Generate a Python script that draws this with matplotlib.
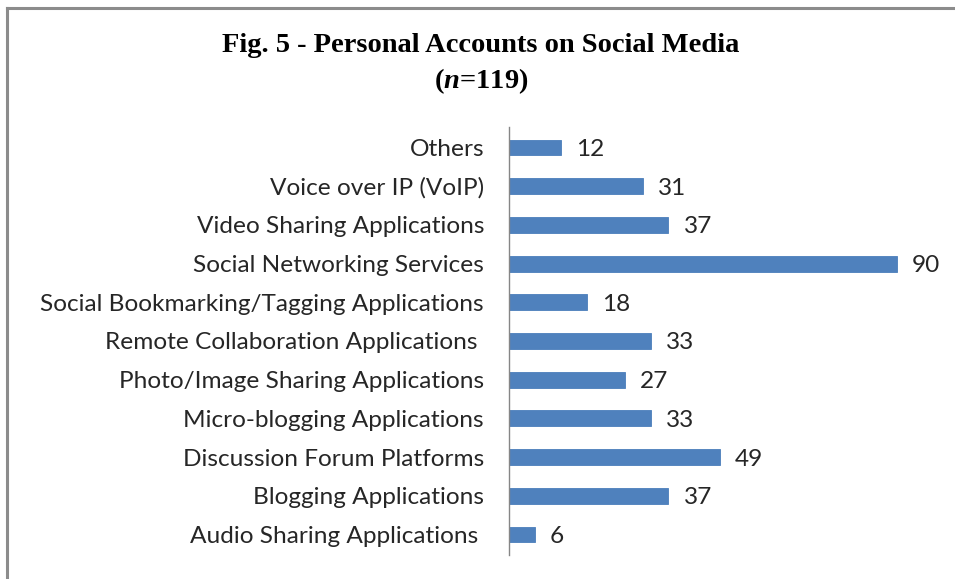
import matplotlib
matplotlib.use("Agg")
import matplotlib.pyplot as plt
from matplotlib.lines import Line2D

plt.rcParams["mathtext.fontset"] = "custom"
plt.rcParams["mathtext.it"] = "Liberation Serif:italic:bold"
plt.rcParams["mathtext.rm"] = "Liberation Serif:bold"

categories = [
    "Audio Sharing Applications ",
    "Blogging Applications",
    "Discussion Forum Platforms",
    "Micro-blogging Applications",
    "Photo/Image Sharing Applications",
    "Remote Collaboration Applications ",
    "Social Bookmarking/Tagging Applications",
    "Social Networking Services",
    "Video Sharing Applications",
    "Voice over IP (VoIP)",
    "Others",
]
values = [6, 37, 49, 33, 27, 33, 18, 90, 37, 31, 12]

W, H = 955, 579
fig = plt.figure(figsize=(W / 100, H / 100), dpi=100)
fig.patch.set_facecolor("white")

ax = fig.add_axes([509 / W, 1 - 555 / H, 431 / W, 428 / H])
ypos = list(range(len(categories)))
ax.barh(ypos, values, height=0.41, color="#4F81BD", edgecolor="#4A7EBB", linewidth=0.6)
ax.set_xlim(0, 100)
ax.set_ylim(-0.53, len(categories) - 1 + 0.53)
ax.set_yticks(ypos)
ax.set_yticklabels(categories, fontsize=17.6, family="Lato", color="#262626")
ax.tick_params(axis="y", length=0, pad=18)
ax.set_xticks([])
for s in ["top", "right", "bottom"]:
    ax.spines[s].set_visible(False)
ax.spines["left"].set_color("#868686")
ax.spines["left"].set_linewidth(1.0)

for y, v in zip(ypos, values):
    ax.annotate(str(v), xy=(v, y), xytext=(15, -2), textcoords="offset pixels",
                va="center", ha="left", fontsize=17.6, family="Lato", color="#262626")

fig.text(481 / W, 1 - 46 / H, "Fig. 5 - Personal Accounts on Social Media",
         ha="center", va="center", fontsize=20.5, family="Liberation Serif", weight="bold")
fig.text(481 / W, 1 - 81 / H, r"($\mathit{n}$=119)", ha="center", va="center",
         fontsize=20.5, family="Liberation Serif", weight="bold")

# frame lines (top and left)
fig.add_artist(Line2D([7 / W, 1], [1 - 8 / H, 1 - 8 / H], transform=fig.transFigure,
                      color="#8c8c8c", linewidth=2.2))
fig.add_artist(Line2D([7 / W, 7 / W], [0, 1 - 8 / H], transform=fig.transFigure,
                      color="#8c8c8c", linewidth=2.2))

fig.savefig("out.png", dpi=100, facecolor="white")
